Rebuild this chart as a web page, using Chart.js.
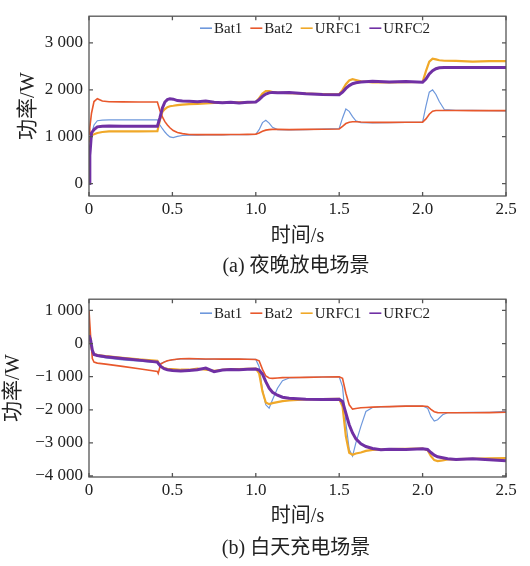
<!DOCTYPE html>
<html>
<head>
<meta charset="utf-8">
<script src="https://cdn.jsdelivr.net/npm/chart.js@4.4.1/dist/chart.umd.min.js"></script>
<style>
  html, body { margin: 0; padding: 0; background: #fff; }
  #wrap { position: relative; width: 530px; height: 566px; overflow: hidden; }
  canvas { position: absolute; left: 0; }
  #chartA { top: 0; }
  #chartB { top: 283px; }
  .caption {
    position: absolute; left: 0; width: 592px; text-align: center;
    font: 20px/24px "Liberation Serif", "Noto Sans CJK SC", serif; color: #222;
  }
</style>
</head>
<body>
<div id="wrap">
  <canvas id="chartA" width="530" height="283"></canvas>
  <canvas id="chartB" width="530" height="283"></canvas>
  <div class="caption" style="top:253px">(a) 夜晚放电场景</div>
  <div class="caption" style="top:535px">(b) 白天充电场景</div>
</div>
<script>
// series names, shared by both panels
const seriesNames = ['Bat1', 'Bat2', 'URFC1', 'URFC2'];

// tick values
const timeTicks = [0, 0.5, 1.0, 1.5, 2.0, 2.5];
const powerTicksA = [0, 1000, 2000, 3000];
const powerTicksB = [-4000, -3000, -2000, -1000, 0, 1000];

// (a) night discharge - time (s) and power (W)
const timeA = [0, 0.005, 0.015, 0.03, 0.05, 0.08, 0.12, 0.2, 0.3, 0.41,
  0.425, 0.44, 0.455, 0.47, 0.485, 0.505, 0.53, 0.56, 0.6, 0.65,
  0.7, 0.75, 0.8, 0.85, 0.9, 0.95, 1.0, 1.02, 1.04, 1.06,
  1.08, 1.1, 1.13, 1.2, 1.3, 1.4, 1.5, 1.52, 1.54, 1.56,
  1.58, 1.6, 1.63, 1.7, 1.8, 1.9, 2.0, 2.02, 2.04, 2.06,
  2.08, 2.1, 2.13, 2.2, 2.3, 2.4, 2.5];
const bat1A = [200, 700, 1050, 1250, 1340, 1355, 1360, 1360, 1360, 1360,
  1250, 1170, 1100, 1040, 995, 980, 1005, 1025, 1035, 1035,
  1038, 1040, 1040, 1042, 1045, 1045, 1050, 1150, 1300, 1350,
  1290, 1200, 1150, 1145, 1150, 1160, 1175, 1400, 1590, 1540,
  1430, 1340, 1300, 1295, 1300, 1305, 1310, 1650, 1950, 2000,
  1900, 1750, 1580, 1560, 1560, 1555, 1550];
const bat2A = [1050, 1200, 1500, 1750, 1810, 1760, 1745, 1742, 1740, 1740,
  1560, 1420, 1320, 1250, 1190, 1130, 1090, 1065, 1048, 1045,
  1045, 1045, 1045, 1047, 1048, 1050, 1055, 1080, 1115, 1140,
  1150, 1155, 1155, 1150, 1155, 1160, 1165, 1220, 1280, 1310,
  1318, 1318, 1312, 1305, 1305, 1308, 1310, 1380, 1480, 1545,
  1560, 1560, 1558, 1558, 1557, 1555, 1555];
const urfc1A = [900, 980, 1030, 1050, 1080, 1100, 1112, 1115, 1115, 1118,
  1350, 1530, 1590, 1630, 1650, 1660, 1675, 1685, 1695, 1700,
  1710, 1720, 1722, 1725, 1730, 1730, 1740, 1820, 1920, 1975,
  1975, 1950, 1940, 1930, 1920, 1910, 1905, 2000, 2120, 2200,
  2225, 2210, 2180, 2160, 2160, 2165, 2170, 2400, 2600, 2665,
  2650, 2630, 2620, 2615, 2600, 2610, 2610];
const urfc2A = [0, 600, 1080, 1150, 1210, 1225, 1228, 1225, 1222, 1222,
  1400, 1610, 1740, 1790, 1810, 1800, 1770, 1760, 1755, 1745,
  1760, 1735, 1725, 1735, 1720, 1735, 1740, 1790, 1860, 1910,
  1935, 1945, 1935, 1940, 1915, 1900, 1895, 1950, 2030, 2090,
  2130, 2150, 2165, 2180, 2165, 2175, 2160, 2230, 2340, 2410,
  2450, 2470, 2478, 2478, 2476, 2476, 2475];

// (b) daytime charge - time (s) and power (W)
const timeB = [0, 0.01, 0.02, 0.03, 0.05, 0.1, 0.2, 0.3, 0.41, 0.415,
  0.43, 0.45, 0.47, 0.5, 0.55, 0.6, 0.65, 0.7, 0.75, 0.8,
  0.85, 0.9, 0.95, 1.0, 1.02, 1.04, 1.06, 1.08, 1.1, 1.13,
  1.16, 1.2, 1.3, 1.4, 1.5, 1.52, 1.54, 1.56, 1.58, 1.6,
  1.63, 1.66, 1.7, 1.75, 1.8, 1.9, 2.0, 2.03, 2.05, 2.07,
  2.09, 2.12, 2.15, 2.2, 2.3, 2.4, 2.5];
const bat1B = [600, 100, -250, -330, -380, -430, -490, -530, -580, -620,
  -600, -560, -520, -490, -465, -460, -470, -480, -470, -470,
  -472, -472, -476, -480, -700, -1400, -1850, -1950, -1700, -1350,
  -1120, -1040, -1020, -1010, -1005, -1300, -2400, -3200, -3400, -3000,
  -2500, -2050, -1930, -1910, -1905, -1890, -1885, -1950, -2200, -2340,
  -2300, -2150, -2090, -2085, -2080, -2075, -2050];
const bat2B = [1000, 200, -450, -560, -590, -620, -690, -760, -840, -900,
  -620, -560, -520, -490, -460, -455, -460, -465, -465, -470,
  -470, -470, -475, -480, -520, -780, -980, -1040, -1050, -1040,
  -1030, -1025, -1020, -1010, -1005, -1050, -1500, -1850, -1980, -1960,
  -1940, -1930, -1920, -1910, -1905, -1890, -1885, -1900, -1990, -2060,
  -2085, -2090, -2090, -2090, -2090, -2085, -2075];
const urfc1B = [500, 0, -250, -320, -350, -380, -430, -480, -520, -560,
  -680, -740, -760, -770, -790, -790, -760, -790, -820, -790,
  -770, -770, -765, -760, -900, -1450, -1780, -1830, -1800, -1770,
  -1740, -1720, -1690, -1680, -1670, -1900, -2800, -3300, -3360, -3320,
  -3290, -3240, -3210, -3200, -3190, -3180, -3170, -3220, -3400, -3520,
  -3550, -3530, -3500, -3490, -3480, -3470, -3460];
const urfc2B = [250, 100, -200, -330, -360, -400, -450, -500, -560, -600,
  -690, -760, -790, -810, -830, -810, -790, -740, -850, -800,
  -780, -790, -775, -770, -800, -920, -1150, -1350, -1470, -1560,
  -1620, -1650, -1680, -1690, -1680, -1750, -2100, -2450, -2700, -2880,
  -3030, -3110, -3170, -3210, -3190, -3200, -3180, -3200, -3290, -3370,
  -3420, -3450, -3480, -3500, -3480, -3510, -3540];

// styles
const lineColors = ['#6e98dc', '#e8582c', '#f0a828', '#7030a4'];
const lineWidths = [1.2, 1.6, 2.2, 3];
const drawOrder = [3, 1, 2, 0];
const serif = '"Liberation Serif", "Times New Roman", "Noto Sans CJK SC", serif';
const textColor = '#222';

function fmtPower(v) {
  const s = String(Math.abs(v));
  const body = s.length > 3 ? s.slice(0, -3) + ' ' + s.slice(-3) : s;
  return (v < 0 ? '\u2212' : '') + body;
}

function makeDatasets(time, series) {
  return series.map((vals, i) => ({
    label: seriesNames[i],
    data: time.map((t, k) => ({ x: t, y: vals[k] })),
    borderColor: lineColors[i],
    backgroundColor: lineColors[i],
    borderWidth: lineWidths[i],
    order: drawOrder[i],
    pointRadius: 0,
    tension: 0,
    fill: false
  }));
}

// box around the plot with inward ticks on all four sides
const frameTicks = {
  id: 'frameTicks',
  afterDatasetsDraw(chart) {
    const { ctx, chartArea: a, scales: { x, y } } = chart;
    ctx.save();
    ctx.strokeStyle = '#555';
    ctx.lineWidth = 1.3;
    ctx.strokeRect(a.left, a.top, a.right - a.left, a.bottom - a.top);
    ctx.beginPath();
    x.ticks.forEach(t => {
      const px = x.getPixelForValue(t.value);
      ctx.moveTo(px, a.bottom); ctx.lineTo(px, a.bottom - 4);
      ctx.moveTo(px, a.top); ctx.lineTo(px, a.top + 4);
    });
    y.ticks.forEach(t => {
      const py = y.getPixelForValue(t.value);
      ctx.moveTo(a.left, py); ctx.lineTo(a.left + 4, py);
      ctx.moveTo(a.right, py); ctx.lineTo(a.right - 4, py);
    });
    ctx.stroke();
    ctx.restore();
  }
};

// one-row legend inside the plot: short line + name
const lineLegend = {
  id: 'lineLegend',
  afterDraw(chart, args, opts) {
    const { ctx, chartArea: a } = chart;
    const y = a.top + opts.dy;
    let x = opts.x;
    ctx.save();
    ctx.font = '15px ' + serif;
    ctx.textBaseline = 'middle';
    ctx.fillStyle = textColor;
    chart.data.datasets.forEach(ds => {
      ctx.strokeStyle = ds.borderColor;
      ctx.lineWidth = 1.6;
      ctx.beginPath();
      ctx.moveTo(x, y);
      ctx.lineTo(x + 12, y);
      ctx.stroke();
      x += 14;
      ctx.fillText(ds.label, x, y + 1);
      x += ctx.measureText(ds.label).width + 8;
    });
    ctx.restore();
  }
};

function makeChart(id, time, series, cfg) {
  return new Chart(document.getElementById(id), {
    type: 'line',
    data: { datasets: makeDatasets(time, series) },
    options: {
      responsive: false,
      animation: false,
      layout: { padding: { left: 0, right: 24, top: cfg.top, bottom: 0 } },
      plugins: {
        lineLegend: { x: 200, dy: cfg.legendDy },
        tooltip: { enabled: false },
        legend: { display: false }
      },
      scales: {
        x: {
          type: 'linear',
          min: 0,
          max: 2.5,
          afterFit: s => { s.height = 283 - cfg.top - cfg.plotH; },
          afterBuildTicks: s => { s.ticks = timeTicks.map(v => ({ value: v })); },
          grid: { display: false, drawTicks: false },
          border: { display: false },
          ticks: {
            autoSkip: false,
            maxRotation: 0,
            padding: 3,
            color: textColor,
            font: { family: serif, size: 17 },
            callback: v => v === 0 ? '0' : v.toFixed(1)
          },
          title: {
            display: true,
            text: '时间/s',
            color: textColor,
            font: { family: serif, size: 20 },
            padding: { top: 0, bottom: cfg.xTitleBottom }
          }
        },
        y: {
          min: cfg.yMin,
          max: cfg.yMax,
          afterFit: s => { s.width = 89; },
          afterBuildTicks: s => { s.ticks = cfg.yTicks.map(v => ({ value: v })); },
          grid: { display: false, drawTicks: false },
          border: { display: false },
          ticks: {
            autoSkip: false,
            padding: 6,
            color: textColor,
            font: { family: serif, size: 17 },
            callback: v => fmtPower(v)
          },
          title: {
            display: true,
            text: '功率/W',
            color: textColor,
            font: { family: serif, size: 21 },
            padding: { top: cfg.yTitlePad, bottom: 0 }
          }
        }
      }
    },
    plugins: [frameTicks, lineLegend]
  });
}

makeChart('chartA', timeA, [bat1A, bat2A, urfc1A, urfc2A], {
  top: 8, plotH: 188, yMin: -265, yMax: 3570, yTicks: powerTicksA,
  yTitlePad: 16, xTitleBottom: 34, legendDy: 12
});
makeChart('chartB', timeB, [bat1B, bat2B, urfc1B, urfc2B], {
  top: 6, plotH: 188, yMin: -4030, yMax: 1340, yTicks: powerTicksB,
  yTitlePad: 1, xTitleBottom: 37, legendDy: 14
});
</script>
</body>
</html>
